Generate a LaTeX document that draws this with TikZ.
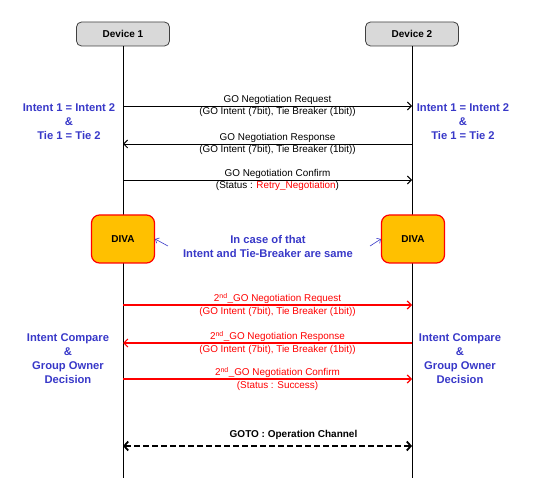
\documentclass[tikz,border=0pt]{standalone}
\usepackage{fontspec}
\setmainfont{Liberation Sans}
\usepackage{xcolor}
\usepackage{tikz}
\usetikzlibrary{
  arrows.meta, positioning, calc
}
\definecolor{dBlue}{HTML}{3838C8}
\definecolor{dRed}{HTML}{FF0000}
\definecolor{dOrange}{HTML}{FFC000}
\definecolor{dGray}{HTML}{D9D9D9}

\begin{document}
\begin{tikzpicture}[x=1pt, y=-1pt,
  every node/.style={font=\fontsize{9.9}{12.8}\selectfont},
  device/.style={rectangle, rounded corners=5pt, draw=black!75, fill=dGray,
                 minimum width=93pt, minimum height=24pt, line width=0.8pt,
                 font=\fontsize{10}{12}\selectfont\bfseries},
  diva/.style={rectangle, rounded corners=8pt, draw=dRed, fill=dOrange,
               minimum width=63pt, minimum height=48pt, line width=1.2pt,
               font=\fontsize{10}{12}\selectfont\bfseries},
  life/.style={draw=black, line width=1pt},
  msg/.style={-{Straight Barb[length=4pt,width=8pt]}, line width=0.9pt},
  msgred/.style={msg, draw=dRed, line width=1.2pt},
  lbl/.style={align=center, xshift=10pt},
  cond/.style={align=center, text=dBlue, font=\fontsize{11.2}{14}\selectfont\bfseries},
  pointer/.style={-{Straight Barb[length=3pt,width=6pt]}, draw=dBlue, line width=0.6pt}
]
\useasboundingbox (0,0) rectangle (533,478);

\node[device] (dev1) at (123,34) {Device 1};
\node[device] (dev2) at (412,34) {Device 2};
\coordinate (end1) at (123,478);
\coordinate (end2) at (412,478);
\draw[life] (dev1) -- (end1);
\draw[life] (dev2) -- (end2);

% first round
\coordinate (Lreq)  at (123,106);  \coordinate (Rreq)  at (412,106);
\coordinate (Lresp) at (123,144);  \coordinate (Rresp) at (412,144);
\coordinate (Lconf) at (123,180);  \coordinate (Rconf) at (412,180);

\draw[msg] (Lreq) -- node[lbl] {GO Negotiation Request\\(GO Intent (7bit), Tie Breaker (1bit))} (Rreq);
\draw[msg] (Rresp) -- node[lbl] {GO Negotiation Response\\(GO Intent (7bit), Tie Breaker (1bit))} (Lresp);
\draw[msg] (Lconf) -- node[lbl] {GO Negotiation Confirm\\(Status : \textcolor{dRed}{Retry\_Negotiation})} (Rconf);

\node[cond] (tieL) at (69,122)  {Intent 1 = Intent 2\\\&\\Tie 1 = Tie 2};
\node[cond] (tieR) at (463,122) {Intent 1 = Intent 2\\\&\\Tie 1 = Tie 2};

% tie case
\node[diva] (divaL) at (123,239) {DIVA};
\node[diva] (divaR) at (413,239) {DIVA};
\node[cond, inner sep=0pt] (note) at (268,246) {In case of that\\Intent and Tie-Breaker are same};
\draw[pointer] ([xshift=-15pt]note.west) -- (divaL.east);
\draw[pointer] ([xshift=17pt]note.east) -- (divaR.west);

% second round
\coordinate (Lreq2)  at (123,305);  \coordinate (Rreq2)  at (412,305);
\coordinate (Lresp2) at (123,343);  \coordinate (Rresp2) at (412,343);
\coordinate (Lconf2) at (123,379);  \coordinate (Rconf2) at (412,379);

\draw[msgred] (Lreq2) -- node[lbl, text=dRed] {2\textsuperscript{nd}\_GO Negotiation Request\\(GO Intent (7bit), Tie Breaker (1bit))} (Rreq2);
\draw[msgred] (Rresp2) -- node[lbl, text=dRed] {2\textsuperscript{nd}\_GO Negotiation Response\\(GO Intent (7bit), Tie Breaker (1bit))} (Lresp2);
\draw[msgred] (Lconf2) -- node[lbl, text=dRed] {2\textsuperscript{nd}\_GO Negotiation Confirm\\(Status : Success)} (Rconf2);

\node[cond] (decL) at (68,359)  {Intent Compare\\\&\\Group Owner\\Decision};
\node[cond] (decR) at (460,359) {Intent Compare\\\&\\Group Owner\\Decision};

% operation channel
\coordinate (Lgoto) at (123,446);  \coordinate (Rgoto) at (412,446);
\draw[{Straight Barb[length=4pt,width=9pt]}-{Straight Barb[length=4pt,width=9pt]},
      line width=1.8pt, dash pattern=on 6pt off 3pt] (Lgoto) -- node[above=2pt, xshift=26pt, font=\fontsize{10}{12}\selectfont\bfseries] {GOTO : Operation Channel} (Rgoto);
\end{tikzpicture}
\end{document}
